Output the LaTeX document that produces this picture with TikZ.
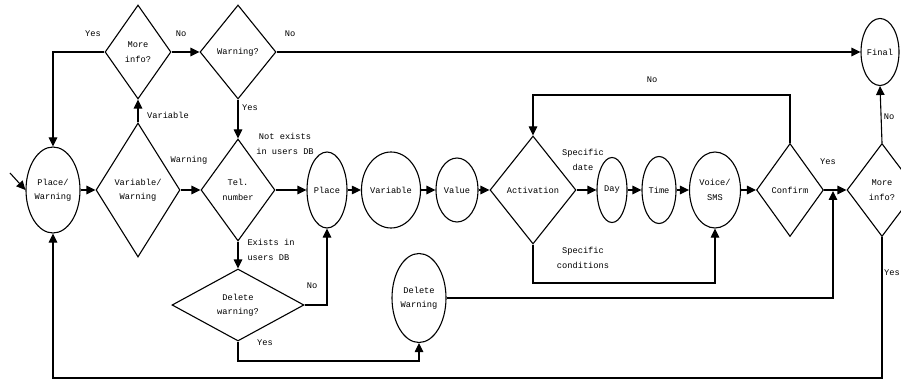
\documentclass[tikz,border=0pt]{standalone}
\usepackage{fontspec}
\setmonofont{Liberation Mono}
\usetikzlibrary{shapes.geometric,arrows.meta}

\begin{document}
\begin{tikzpicture}[x=1pt,y=-1pt,line width=1.1pt,
  font=\ttfamily\fontsize{8.7}{14.5}\selectfont,
  >={Triangle[length=9pt,width=8.5pt]},
  lbl/.style={inner sep=0pt,align=center}]
\useasboundingbox (0,0) rectangle (901,379);
 \begin{scope}[every node/.style={draw, ellipse, inner sep=0pt, align=center}]
  \node[minimum width=54pt, minimum height=86pt] (placewarn) at (53,190) {Place/\\Warning};
  \node[minimum width=40pt, minimum height=76pt] (place) at (327,190) {Place};
  \node[minimum width=56pt, minimum height=76pt] (variable) at (391,190) {Variable};
  \node[minimum width=42pt, minimum height=64pt] (value) at (457,190) {Value};
  \node[minimum width=30pt, minimum height=65pt] (day) at (612,190) {Day};
  \node[minimum width=34pt, minimum height=67pt] (time) at (659,190) {Time};
  \node[minimum width=51pt, minimum height=76pt] (voicesms) at (715,190) {Voice/\\SMS};
  \node[minimum width=38pt, minimum height=67pt] (final) at (880,52) {Final};
  \node[minimum width=54pt, minimum height=89pt] (delwarn) at (419,298) {Delete\\Warning};
 \end{scope}
 \begin{scope}[every node/.style={draw, diamond, inner sep=0pt, align=center}]
  \node[minimum width=84pt, minimum height=134pt] (varwarn) at (138,190) {Variable/\\Warning};
  \node[minimum width=66pt, minimum height=94pt] (moreinfo) at (138,52) {More\\info?};
  \node[minimum width=76pt, minimum height=94pt] (warnq) at (238,52) {Warning?};
  \node[minimum width=74pt, minimum height=102pt] (telnum) at (238,190) {Tel.\\number};
  \node[minimum width=132pt, minimum height=72pt] (delq) at (238,305) {Delete\\warning?};
  \node[minimum width=86pt, minimum height=108pt] (activ) at (533,190) {Activation};
  \node[minimum width=67pt, minimum height=93pt] (confirm) at (790,190) {Confirm};
  \node[minimum width=70pt, minimum height=93pt] (moreinfoB) at (882,190) {More\\info?};
 \end{scope}
  \coordinate (entry) at (10,173);
  \coordinate (dellow) at (238,361);
  \coordinate (actlow) at (533,283);
  \coordinate (conftop) at (790,95);
  \coordinate (joinpt) at (833,191);
  \coordinate (bottom) at (882,378);
  \node[lbl] (yesA) at (93,34) {Yes};
  \node[lbl] (noA) at (181,34) {No};
  \node[lbl] (noB) at (290,34) {No};
  \node[lbl] (varlbl) at (168,115) {Variable};
  \node[lbl] (warnlbl) at (189,160) {Warning};
  \node[lbl] (yesB) at (250,108) {Yes};
  \node[lbl] (notex) at (285,144) {Not exists\\in users DB};
  \node[lbl, align=left] (exists) at (271,250) {Exists in\\users DB};
  \node[lbl] (noC) at (312,286) {No};
  \node[lbl] (yesC) at (265,343) {Yes};
  \node[lbl] (specdate) at (583,160) {Specific\\date};
  \node[lbl] (speccond) at (583,258) {Specific\\conditions};
  \node[lbl] (noD) at (652,80) {No};
  \node[lbl] (yesD) at (828,162) {Yes};
  \node[lbl] (noE) at (889,117) {No};
  \node[lbl] (yesE) at (892,273) {Yes};
  \path [->] (entry) edge (placewarn.west);
  \path [->] (placewarn.east) edge (varwarn.west);
  \path [->] (varwarn.north) edge (moreinfo.south);
  \path [->] (moreinfo.east) edge (warnq.west);
  \draw [->] (moreinfo.west) -| (placewarn.north);
  \path [->] (warnq.east) edge (final.west);
  \path [->] (warnq.south) edge (telnum.north);
  \path [->] (varwarn.east) edge (telnum.west);
  \path [->] (telnum.east) edge (place.west);
  \path [->] (telnum.south) edge (delq.north);
  \draw [->] (delq.east) -| (place.south);
  \draw [->] (delq.south) -- (dellow) -| (delwarn.south);
  \path [->] (place) edge (variable);
  \path [->] (variable) edge (value);
  \path [->] (value) edge (activ);
  \path [->] (activ) edge (day);
  \draw [->] (activ.south) -- (actlow) -| (voicesms.south);
  \path [->] (day) edge (time);
  \path [->] (time) edge (voicesms);
  \path [->] (voicesms) edge (confirm);
  \draw [->] (confirm.north) -- (conftop) -| (activ.north);
  \path [->] (confirm) edge (moreinfoB);
  \draw [->] (delwarn.east) -| (joinpt);
  \path [->] (moreinfoB.north) edge (final.south);
  \draw [->] (moreinfoB.south) -- (bottom) -| (placewarn.south);
\end{tikzpicture}
\end{document}
